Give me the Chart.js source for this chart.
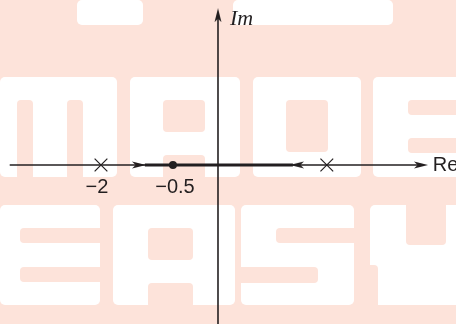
<!DOCTYPE html>
<html>
<head>
<meta charset="utf-8">
<script src="https://cdn.jsdelivr.net/npm/chart.js@4/dist/chart.umd.min.js"></script>
<style>
    html, body { margin: 0; padding: 0; background: #fde3da; }
    #wrap { width: 456px; height: 324px; }
</style>
</head>
<body>
<div id="wrap"><canvas id="locusChart" width="456" height="324"></canvas></div>
<script>
// Root locus sketch (diagram units, not to scale)
const poleX = [-2.0, 1.86];
const zeroX = [-0.77];
const poleLabels = ['\u22122', ''];
const zeroLabels = ['\u22120.5'];
const realAxis = [-3.56, 3.5];
const imagAxis = [-2.9, 2.55];
const locusSegment = [-1.25, 1.28];
const locusArrowX = [-1.35, 1.35];
const locusArrowDir = [0, 180];   // degrees: right, left

const ink = '#231f20';
const pink = '#fde3da';

// barbed arrowhead used as point style
function makeArrow() {
    const c = document.createElement('canvas');
    c.width = 14;
    c.height = 8;
    const g = c.getContext('2d');
    g.fillStyle = ink;
    g.beginPath();
    g.moveTo(14, 4);
    g.lineTo(0, 0.5);
    g.lineTo(3.5, 4);
    g.lineTo(0, 7.5);
    g.closePath();
    g.fill();
    return c;
}
const arrow = makeArrow();

// faint "MADE EASY" watermark behind the plot
const watermark = {
    id: 'watermark',
    beforeDraw(chart) {
        const ctx = chart.ctx;
        const white = [
            [77, 0, 66, 25], [233, 0, 160, 25],
            [0, 77, 117, 100], [130, 77, 110, 100], [253, 77, 108, 100], [373, 77, 90, 100],
            [0, 205, 100, 100], [113, 205, 122, 100], [241, 205, 113, 100], [370, 205, 90, 100]
        ];
        const holes = [
            [17, 100, 16, 80], [67, 100, 16, 80],
            [163, 100, 42, 32], [163, 155, 42, 25],
            [286, 100, 42, 52],
            [408, 100, 52, 15], [408, 138, 52, 15],
            [20, 228, 84, 15], [20, 267, 84, 15],
            [148, 228, 45, 32], [148, 283, 45, 25],
            [276, 228, 82, 15], [236, 267, 82, 16],
            [406, 200, 40, 45], [365, 265, 13, 45]
        ];
        const box = (r, rad) => {
            ctx.beginPath();
            if (ctx.roundRect) ctx.roundRect(r[0], r[1], r[2], r[3], rad);
            else ctx.rect(r[0], r[1], r[2], r[3]);
            ctx.fill();
        };
        ctx.save();
        ctx.fillStyle = pink;
        ctx.fillRect(0, 0, chart.width, chart.height);
        ctx.fillStyle = '#ffffff';
        white.forEach(r => box(r, 5));
        ctx.fillStyle = pink;
        holes.forEach(r => box(r, 4));
        ctx.restore();
    }
};

// tick-like labels and axis names
const labels = {
    id: 'labels',
    afterDraw(chart) {
        const ctx = chart.ctx;
        const xs = chart.scales.x;
        const ys = chart.scales.y;
        const y0 = ys.getPixelForValue(0);
        ctx.save();
        ctx.fillStyle = ink;
        ctx.textAlign = 'center';
        ctx.textBaseline = 'middle';
        ctx.font = '20px "Liberation Sans", Arial, sans-serif';
        poleX.forEach((v, i) => {
            if (poleLabels[i]) ctx.fillText(poleLabels[i], xs.getPixelForValue(v) - 4, y0 + 23);
        });
        zeroX.forEach((v, i) => {
            ctx.fillText(zeroLabels[i], xs.getPixelForValue(v) + 2, y0 + 23);
        });
        ctx.textAlign = 'left';
        ctx.fillText('Re', xs.getPixelForValue(realAxis[1]) + 10, y0 + 1);
        ctx.font = 'italic 22px "Liberation Serif", "Times New Roman", serif';
        ctx.fillText('Im', xs.getPixelForValue(0) + 12, ys.getPixelForValue(imagAxis[1]) + 3);
        ctx.restore();
    }
};

const lineSet = (pts, width) => ({
    data: pts,
    showLine: true,
    borderColor: ink,
    borderWidth: width,
    pointRadius: 0
});

new Chart(document.getElementById('locusChart'), {
    type: 'scatter',
    data: {
        datasets: [
            lineSet(realAxis.map(x => ({ x, y: 0 })), 1.6),
            lineSet(imagAxis.map(y => ({ x: 0, y })), 1.6),
            lineSet(locusSegment.map(x => ({ x, y: 0 })), 3.2),
            {
                data: locusArrowX.map(x => ({ x, y: 0 }))
                    .concat([{ x: realAxis[1] - 0.03, y: 0 }, { x: 0, y: imagAxis[1] + 0.01 }]),
                pointStyle: arrow,
                rotation: locusArrowDir.concat([0, -90]),
                pointRadius: 7
            },
            {
                data: poleX.map(x => ({ x, y: 0 })),
                pointStyle: 'crossRot',
                pointRadius: 9,
                borderColor: ink,
                borderWidth: 1.2
            },
            {
                data: zeroX.map(x => ({ x, y: 0 })),
                pointStyle: 'circle',
                pointRadius: 4,
                backgroundColor: ink,
                borderColor: ink,
                borderWidth: 0
            }
        ]
    },
    options: {
        responsive: false,
        animation: false,
        layout: { padding: 0, autoPadding: false },
        plugins: {
            legend: { display: false },
            tooltip: { enabled: false }
        },
        scales: {
            x: { type: 'linear', display: false, min: -3.726, max: 4.068 },
            y: { type: 'linear', display: false, min: -2.718, max: 2.82 }
        }
    },
    plugins: [watermark, labels]
});
</script>
</body>
</html>
